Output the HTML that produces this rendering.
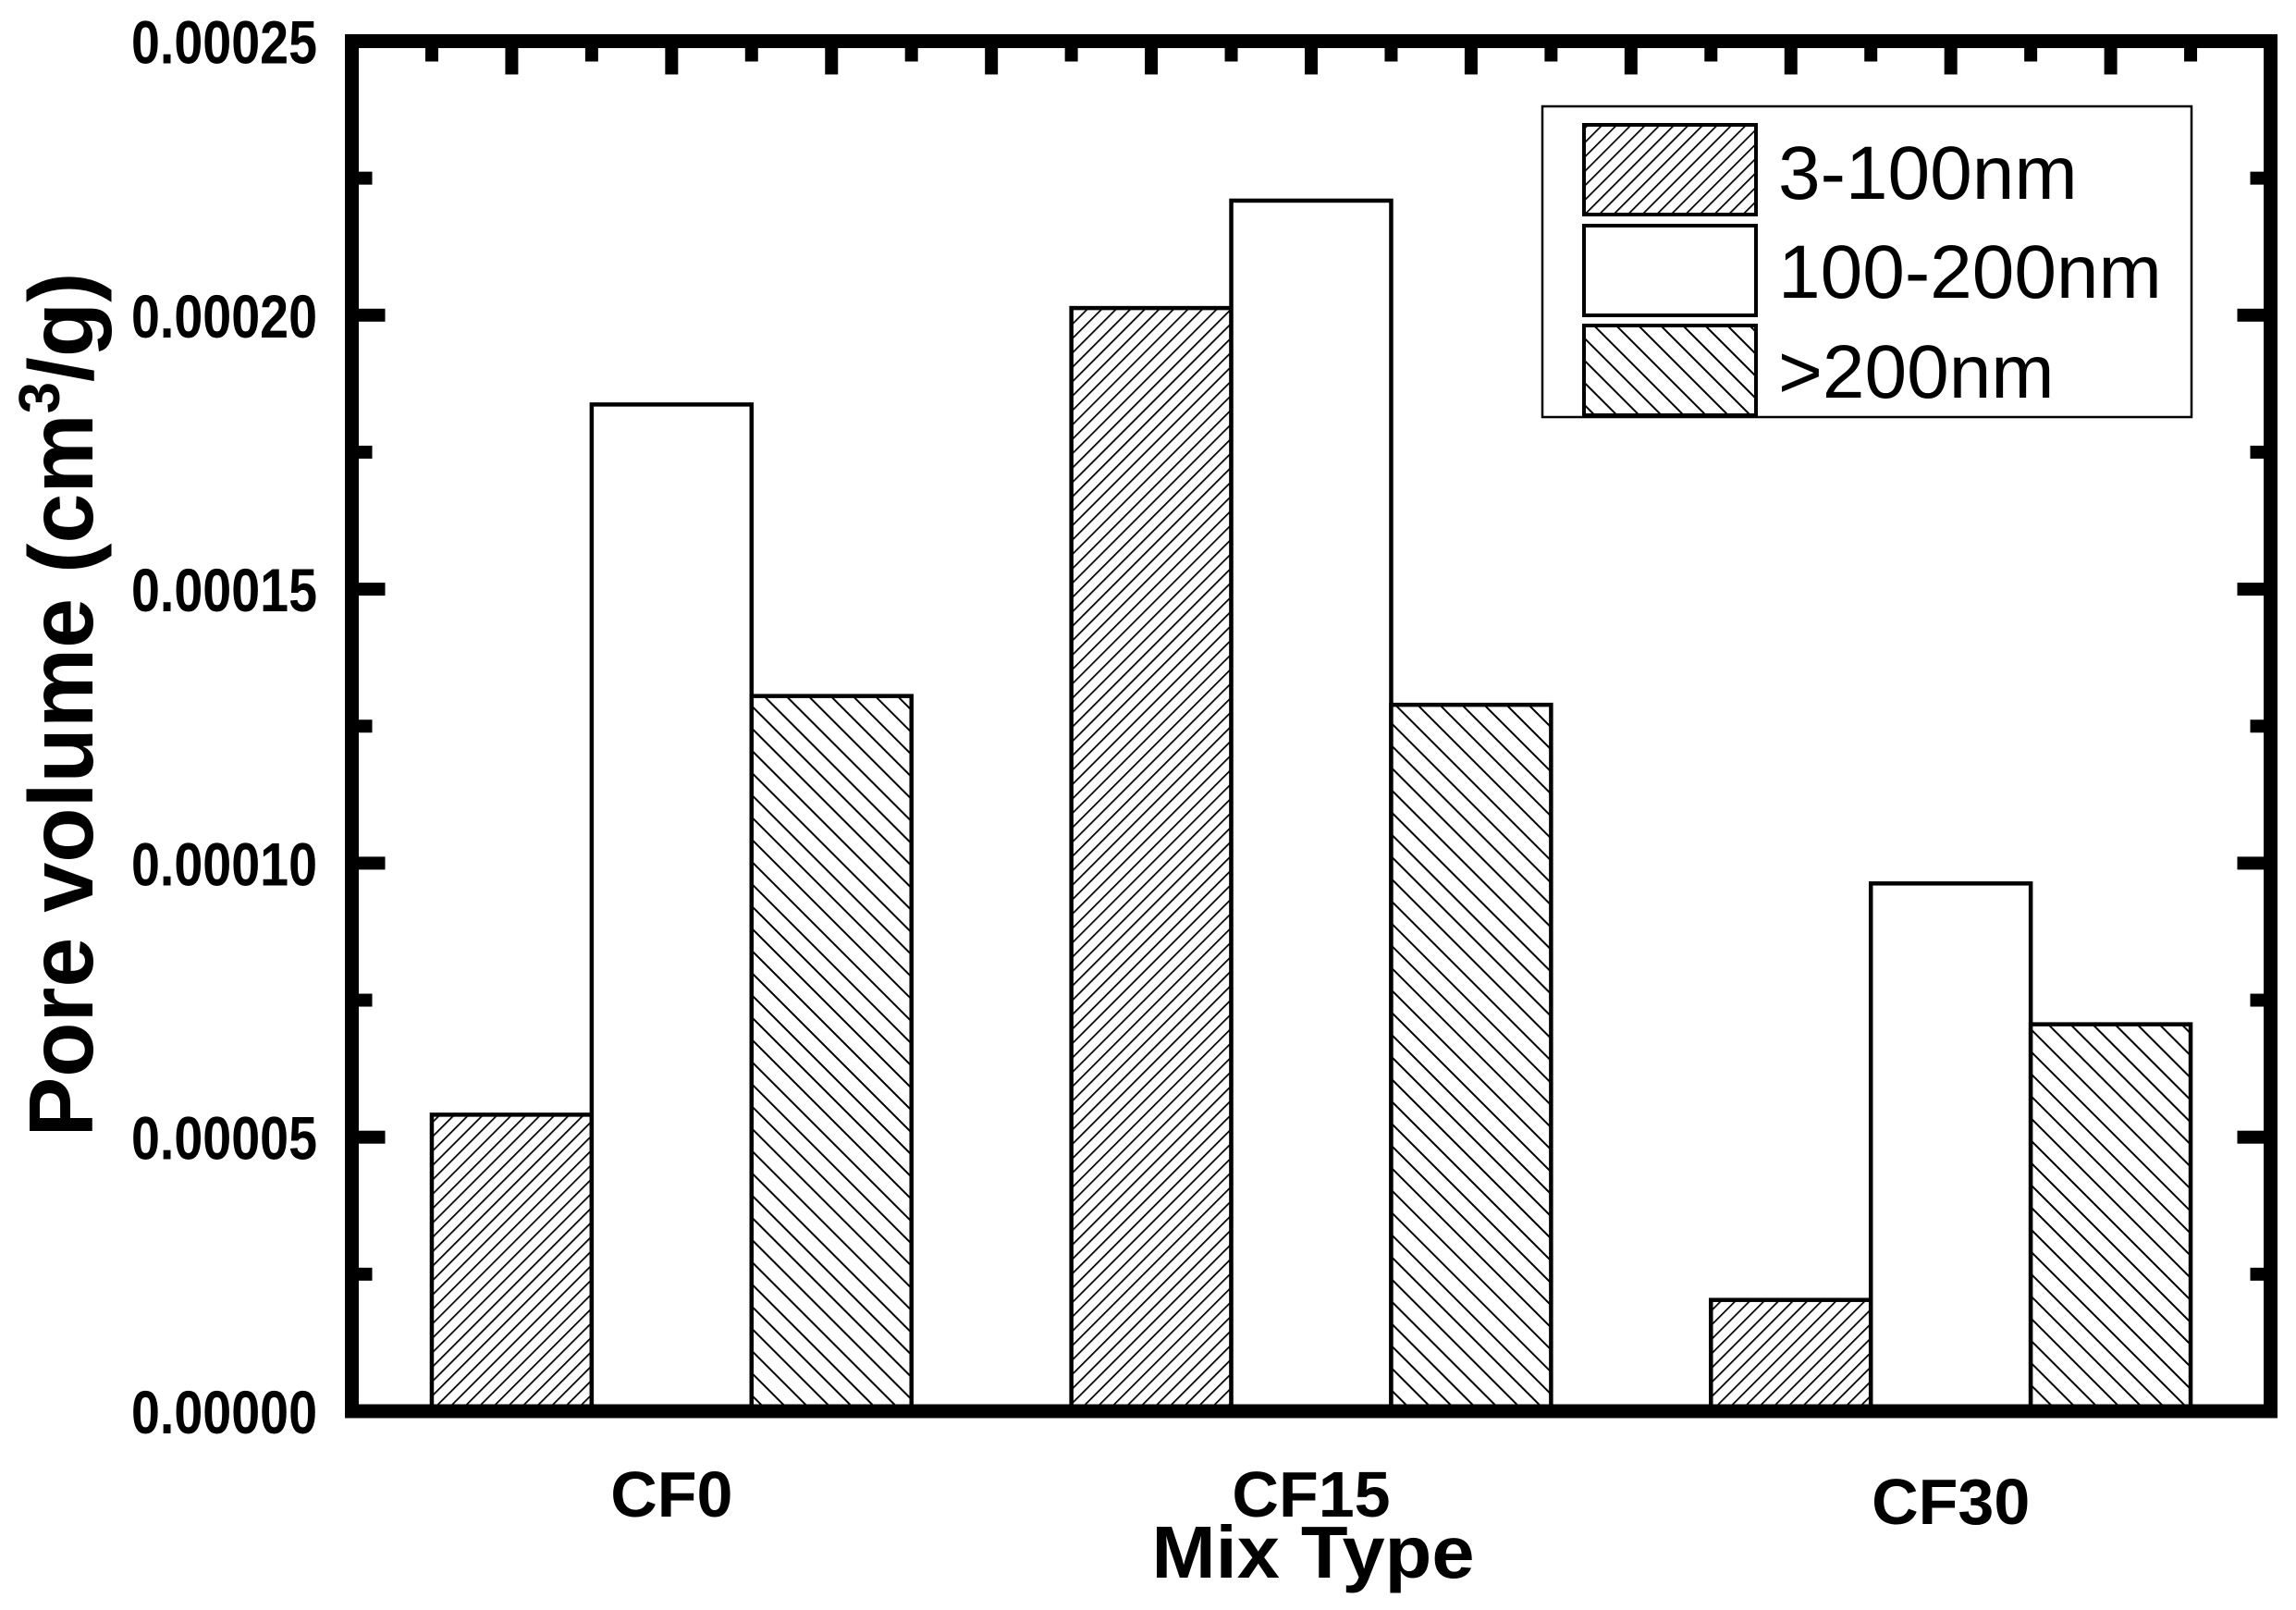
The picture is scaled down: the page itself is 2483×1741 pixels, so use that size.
<!DOCTYPE html>
<html><head><meta charset="utf-8"><style>
html,body{margin:0;padding:0;background:#fff;}
svg{display:block;}
</style></head><body>
<svg id="chart" width="2483" height="1741" viewBox="0 0 2483 1741" xmlns="http://www.w3.org/2000/svg">
<defs>
<pattern id="hatchA" patternUnits="userSpaceOnUse" width="11" height="11" patternTransform="rotate(45)">
<rect width="11" height="11" fill="#fff"/><line x1="0" y1="0" x2="0" y2="11" stroke="#000" stroke-width="3.5"/>
</pattern>
<pattern id="hatchC" patternUnits="userSpaceOnUse" width="17" height="17" patternTransform="rotate(-45)">
<rect width="17" height="17" fill="#fff"/><line x1="0" y1="0" x2="0" y2="17" stroke="#000" stroke-width="4"/>
</pattern>
</defs>
<g id="bars"></g>
<g id="axes"></g>
<g id="legend"></g>
</svg>
<script>
const categories = ["CF0", "CF15", "CF30"];
const series3to100 = [0.0000541, 0.0002013, 0.0000203];
const series100to200 = [0.0001837, 0.0002209, 0.0000963];
const seriesOver200 = [0.0001305, 0.0001289, 0.0000706];
const seriesNames = ["3-100nm", "100-200nm", ">200nm"];
const yTickValues = [0, 0.00005, 0.0001, 0.00015, 0.0002, 0.00025];
const yTickLabels = ["0.00000", "0.00005", "0.00010", "0.00015", "0.00020", "0.00025"];

const NS = "http://www.w3.org/2000/svg";
const L = 380.5, R = 2455.5, T = 44.5, B = 1526;
const xMin = 0.5, xMax = 3.5, yMax = 0.00025;
function xs(v){ return L + (v - xMin) / (xMax - xMin) * (R - L); }
function ys(v){ return B - v / yMax * (B - T); }
function mk(tag, attrs, parent){ const e = document.createElementNS(NS, tag); for (const k in attrs) e.setAttribute(k, attrs[k]); parent.appendChild(e); return e; }

const fills = ["url(#hatchA)", "#fff", "url(#hatchC)"];
const allSeries = [series3to100, series100to200, seriesOver200];
const barsG = document.getElementById("bars");
const bw = 0.25;
allSeries.forEach((s, si) => {
  s.forEach((v, ci) => {
    const x0 = xs(ci + 1 - 0.375 + si * bw), x1 = xs(ci + 1 - 0.375 + (si + 1) * bw);
    const r = mk("rect", {x: x0, y: ys(v), width: x1 - x0, height: B - ys(v), fill: fills[si], stroke: "#000", "stroke-width": 4.5}, barsG);
    
    
  });
});

const ax = document.getElementById("axes");
yTickValues.forEach((v, i) => {
  const y = ys(v);
  if (i > 0 && i < yTickValues.length - 1) {
    const t1 = mk("rect", {x: L, y: y - 7, width: 36, height: 14, fill: "#000"}, ax);
    
    
    const t2 = mk("rect", {x: R - 36, y: y - 7, width: 36, height: 14, fill: "#000"}, ax);
    
    
  }
  if (i < yTickValues.length - 1) {
    const ym = ys(v + 0.000025);
    const m1 = mk("rect", {x: L, y: ym - 7, width: 22, height: 14, fill: "#000"}, ax);
    
    
    const m2 = mk("rect", {x: R - 22, y: ym - 7, width: 22, height: 14, fill: "#000"}, ax);
    
    
  }
  const lab = mk("text", {x: 343, y: y + 24, "text-anchor": "end", "font-family": "Liberation Sans, sans-serif", "font-weight": "bold", "font-size": 66, textLength: 201, lengthAdjust: "spacingAndGlyphs"}, ax);
  lab.textContent = yTickLabels[i];
  
  
});
for (let k = 1; k < 24; k++) {
  const xv = 0.5 + k * 0.125;
  const major = k % 2 === 0;
  const t = mk("rect", {x: xs(xv) - 7, y: T, width: 14, height: major ? 36 : 22, fill: "#000"}, ax);
  
  
}
const frame = mk("rect", {x: L, y: T, width: R - L, height: B - T, fill: "none", stroke: "#000", "stroke-width": 15}, ax);



const catY = [1640, 1640, 1648];
categories.forEach((c, i) => {
  const t = mk("text", {x: xs(i + 1), y: catY[i], "text-anchor": "middle", "font-family": "Liberation Sans, sans-serif", "font-weight": "bold", "font-size": 70}, ax);
  t.textContent = c;
  
  
});
const xt = mk("text", {x: 1420, y: 1706, "text-anchor": "middle", "font-family": "Liberation Sans, sans-serif", "font-weight": "bold", "font-size": 80, textLength: 349, lengthAdjust: "spacingAndGlyphs"}, ax);
xt.textContent = "Mix Type";



const yt = mk("text", {x: 0, y: 0, "text-anchor": "middle", transform: "translate(100,762) rotate(-90)", "font-family": "Liberation Sans, sans-serif", "font-weight": "bold", "font-size": 98, textLength: 935, lengthAdjust: "spacingAndGlyphs"}, ax);
yt.innerHTML = 'Pore volume (cm<tspan dy="-36" font-size="62">3</tspan><tspan dy="36">/g)</tspan>';



const lg = document.getElementById("legend");
const box = mk("rect", {x: 1668, y: 115, width: 702, height: 336, fill: "#fff", stroke: "#000", "stroke-width": 2.5}, lg);


const swY = [135, 244, 352], baseY = [215, 322, 430];
seriesNames.forEach((n, i) => {
  const s = mk("rect", {x: 1713, y: swY[i], width: 186, height: 97, fill: fills[i], stroke: "#000", "stroke-width": 4}, lg);
  
  
  const t = mk("text", {x: 1923, y: baseY[i], "font-family": "Liberation Sans, sans-serif", "font-size": 82}, lg);
  t.textContent = n;
  
  
});
</script>
</body></html>
